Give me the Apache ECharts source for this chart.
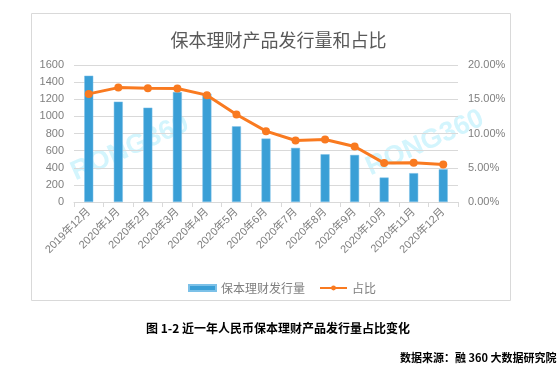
<!DOCTYPE html>
<html>
<head>
<meta charset="utf-8">
<script src="https://cdn.jsdelivr.net/npm/echarts@6/dist/echarts.min.js"></script>
<style>
  html, body { margin: 0; padding: 0; background: #fff; }
  #main { width: 557px; height: 376px; }
</style>
</head>
<body>
<div id="main"></div>
<script>
// 月份
var months = ['2019年12月', '2020年1月', '2020年2月', '2020年3月', '2020年4月', '2020年5月', '2020年6月',
  '2020年7月', '2020年8月', '2020年9月', '2020年10月', '2020年11月', '2020年12月'];
// 保本理财发行量
var issueCount = [1475, 1172, 1102, 1284, 1265, 884, 741, 632, 558, 550, 286, 337, 383];
// 占比
var shareRatio = [0.1578, 0.1670, 0.1660, 0.1658, 0.1560, 0.1277, 0.1034, 0.0898, 0.0913, 0.0811, 0.0568, 0.0573, 0.0549];

var labelFont = "'Liberation Sans', 'Noto Sans CJK SC', sans-serif";
var cjkFont = "'Noto Sans CJK SC', sans-serif";

var chart = echarts.init(document.getElementById('main'));

var option = {
  animation: false,
  title: {
    text: '保本理财产品发行量和占比',
    left: 'center',
    top: 26,
    textStyle: { color: '#595959', fontSize: 18, fontWeight: 'normal', fontFamily: cjkFont }
  },
  legend: {
    left: 183,
    top: 277,
    itemWidth: 27,
    itemHeight: 6,
    itemGap: 14,
    textStyle: { color: '#7f7f7f', fontSize: 12, fontFamily: cjkFont },
    data: [{ name: '保本理财发行量', icon: 'rect' }, '占比']
  },
  grid: { left: 74, top: 65, width: 384, height: 137 },
  xAxis: {
    type: 'category',
    data: months,
    axisLine: { lineStyle: { color: '#d9d9d9' } },
    axisTick: { show: true, length: 5, lineStyle: { color: '#d9d9d9' } },
    axisLabel: { rotate: 45, color: '#7f7f7f', fontSize: 11, fontFamily: labelFont, margin: 8, interval: 0 }
  },
  yAxis: [
    {
      type: 'value',
      min: 0,
      max: 1600,
      interval: 200,
      axisLine: { show: false },
      axisTick: { show: false },
      splitLine: { lineStyle: { color: '#d9d9d9' } },
      axisLabel: {
        color: '#7f7f7f', fontSize: 11, fontFamily: labelFont, margin: 10,
        formatter: function (v) { return String(v); }
      }
    },
    {
      type: 'value',
      min: 0,
      max: 0.2,
      interval: 0.05,
      axisLine: { show: false },
      axisTick: { show: false },
      splitLine: { show: false },
      axisLabel: {
        color: '#7f7f7f', fontSize: 11, fontFamily: labelFont, margin: 10,
        formatter: function (v) { return (v * 100).toFixed(2) + '%'; }
      }
    }
  ],
  graphic: [
    {
      type: 'rect',
      shape: { x: 31.5, y: 13.5, width: 479, height: 287 },
      style: { fill: 'none', stroke: '#d9d9d9', lineWidth: 1 },
      z: -10
    },
    // 水印
    {
      type: 'text',
      x: 130, y: 148, rotation: 0.42,
      style: { text: 'RONG360', fill: '#d3f5fd', font: 'bold 27px ' + labelFont, textAlign: 'center', textVerticalAlign: 'middle' },
      z: -5
    },
    {
      type: 'text',
      x: 425, y: 143, rotation: 0.42,
      style: { text: 'RONG360', fill: '#d3f5fd', font: 'bold 27px ' + labelFont, textAlign: 'center', textVerticalAlign: 'middle' },
      z: -5
    },
    {
      type: 'text',
      left: 146, top: 322,
      style: { text: '图 1-2 近一年人民币保本理财产品发行量占比变化', fill: '#000', font: 'bold 12px ' + cjkFont }
    },
    {
      type: 'text',
      left: 400, top: 352,
      style: { text: '数据来源：融 360 大数据研究院', fill: '#000', font: 'bold 11px ' + cjkFont }
    }
  ],
  series: [
    {
      name: '保本理财发行量',
      type: 'bar',
      data: issueCount,
      barWidth: 9,
      itemStyle: { color: '#3a9fd6', borderColor: '#7cc1e8', borderWidth: 0.5 }
    },
    {
      name: '占比',
      type: 'line',
      yAxisIndex: 1,
      data: shareRatio,
      symbol: 'circle',
      symbolSize: 8,
      lineStyle: { color: '#f97a20', width: 3 },
      itemStyle: { color: '#f97a20' }
    }
  ]
};

chart.setOption(option);
</script>
</body>
</html>
